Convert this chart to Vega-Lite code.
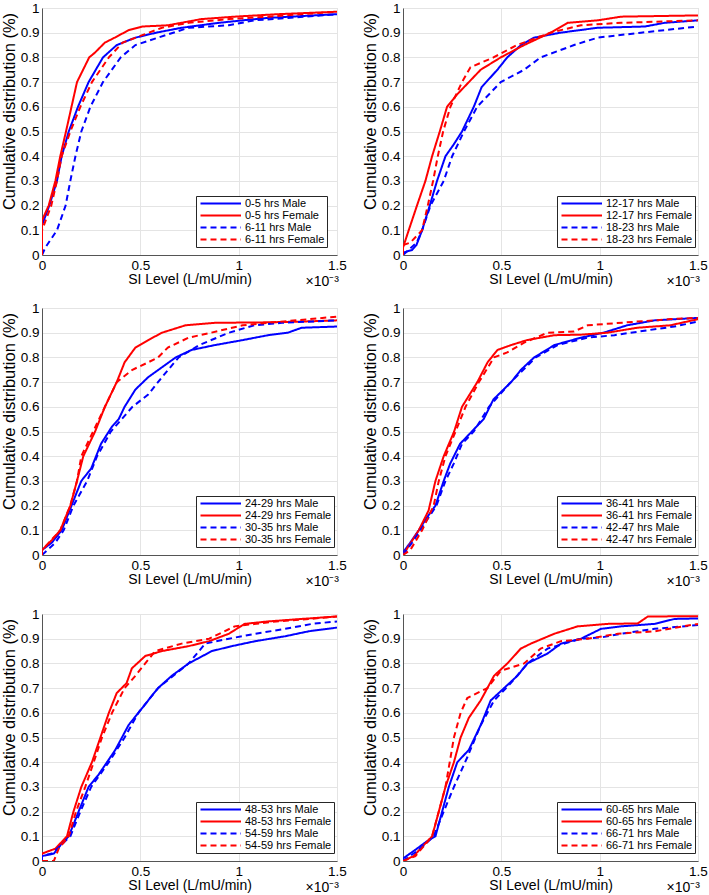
{
  "$schema": "https://vega.github.io/schema/vega-lite/v6.json",
  "padding": {"left": 0, "top": 0, "right": 0, "bottom": 0},
  "background": "white",
  "spacing": 10,
  "config": {
    "font": "Liberation Sans",
    "view": {"stroke": "#d4d4d4"},
    "axis": {"labelFontSize": 13.5, "titleFontSize": 14.5, "titleFontWeight": "normal", "labelColor": "#000000", "titleColor": "#000000", "domainColor": "#555555", "gridColor": "#e4e4e4", "ticks": false, "labelFlush": false, "labelOverlap": false, "labelPadding": 4},
    "axisX": {"labelPadding": 3, "titlePadding": 1, "titleFontSize": 14},
    "axisY": {"titleFontSize": 16.5, "titleY": 103, "titlePadding": 3, "labelPadding": 3},
    "legend": {"orient": "none", "legendX": 154, "legendY": 188, "symbolType": "M-1,0H12.5", "symbolSize": 36, "symbolStrokeWidth": 2, "labelFontSize": 11, "labelColor": "#000000", "labelOffset": 36, "strokeColor": "#262626", "fillColor": "white", "padding": 2, "rowPadding": 0},
    "concat": {"spacing": 14}
  },
  "datasets": {
    "d1": [
      {"s":"0-5 hrs Male","x":0,"y":0},{"s":"0-5 hrs Male","x":0,"y":0.12},{"s":"0-5 hrs Male","x":0.037,"y":0.2},{"s":"0-5 hrs Male","x":0.076,"y":0.3},{"s":"0-5 hrs Male","x":0.1,"y":0.4},{"s":"0-5 hrs Male","x":0.136,"y":0.5},{"s":"0-5 hrs Male","x":0.183,"y":0.6},{"s":"0-5 hrs Male","x":0.237,"y":0.7},{"s":"0-5 hrs Male","x":0.31,"y":0.8},{"s":"0-5 hrs Male","x":0.38,"y":0.85},{"s":"0-5 hrs Male","x":0.475,"y":0.88},{"s":"0-5 hrs Male","x":0.58,"y":0.9},{"s":"0-5 hrs Male","x":0.71,"y":0.92},{"s":"0-5 hrs Male","x":0.9,"y":0.94},{"s":"0-5 hrs Male","x":1.02,"y":0.95},{"s":"0-5 hrs Male","x":1.15,"y":0.96},{"s":"0-5 hrs Male","x":1.5,"y":0.975},
      {"s":"0-5 hrs Female","x":0,"y":0},{"s":"0-5 hrs Female","x":0,"y":0.14},{"s":"0-5 hrs Female","x":0.034,"y":0.2},{"s":"0-5 hrs Female","x":0.068,"y":0.3},{"s":"0-5 hrs Female","x":0.093,"y":0.4},{"s":"0-5 hrs Female","x":0.122,"y":0.5},{"s":"0-5 hrs Female","x":0.15,"y":0.6},{"s":"0-5 hrs Female","x":0.178,"y":0.7},{"s":"0-5 hrs Female","x":0.24,"y":0.8},{"s":"0-5 hrs Female","x":0.27,"y":0.82},{"s":"0-5 hrs Female","x":0.32,"y":0.86},{"s":"0-5 hrs Female","x":0.37,"y":0.88},{"s":"0-5 hrs Female","x":0.44,"y":0.91},{"s":"0-5 hrs Female","x":0.51,"y":0.925},{"s":"0-5 hrs Female","x":0.64,"y":0.93},{"s":"0-5 hrs Female","x":0.81,"y":0.955},{"s":"0-5 hrs Female","x":0.98,"y":0.965},{"s":"0-5 hrs Female","x":1.2,"y":0.975},{"s":"0-5 hrs Female","x":1.5,"y":0.985},
      {"s":"6-11 hrs Male","x":0,"y":0},{"s":"6-11 hrs Male","x":0.017,"y":0.03},{"s":"6-11 hrs Male","x":0.076,"y":0.1},{"s":"6-11 hrs Male","x":0.12,"y":0.2},{"s":"6-11 hrs Male","x":0.144,"y":0.3},{"s":"6-11 hrs Male","x":0.17,"y":0.4},{"s":"6-11 hrs Male","x":0.2,"y":0.5},{"s":"6-11 hrs Male","x":0.246,"y":0.6},{"s":"6-11 hrs Male","x":0.31,"y":0.7},{"s":"6-11 hrs Male","x":0.4,"y":0.8},{"s":"6-11 hrs Male","x":0.475,"y":0.85},{"s":"6-11 hrs Male","x":0.59,"y":0.88},{"s":"6-11 hrs Male","x":0.746,"y":0.92},{"s":"6-11 hrs Male","x":0.95,"y":0.93},{"s":"6-11 hrs Male","x":1.08,"y":0.95},{"s":"6-11 hrs Male","x":1.25,"y":0.96},{"s":"6-11 hrs Male","x":1.5,"y":0.975},
      {"s":"6-11 hrs Female","x":0,"y":0},{"s":"6-11 hrs Female","x":0,"y":0.1},{"s":"6-11 hrs Female","x":0.047,"y":0.2},{"s":"6-11 hrs Female","x":0.076,"y":0.3},{"s":"6-11 hrs Female","x":0.1,"y":0.4},{"s":"6-11 hrs Female","x":0.144,"y":0.5},{"s":"6-11 hrs Female","x":0.195,"y":0.6},{"s":"6-11 hrs Female","x":0.254,"y":0.7},{"s":"6-11 hrs Female","x":0.34,"y":0.8},{"s":"6-11 hrs Female","x":0.41,"y":0.86},{"s":"6-11 hrs Female","x":0.51,"y":0.89},{"s":"6-11 hrs Female","x":0.61,"y":0.92},{"s":"6-11 hrs Female","x":0.746,"y":0.94},{"s":"6-11 hrs Female","x":0.95,"y":0.955},{"s":"6-11 hrs Female","x":1.15,"y":0.965},{"s":"6-11 hrs Female","x":1.5,"y":0.985}
    ],
    "d2": [
      {"s":"12-17 hrs Male","x":0,"y":0},{"s":"12-17 hrs Male","x":0,"y":0.01},{"s":"12-17 hrs Male","x":0.046,"y":0.02},{"s":"12-17 hrs Male","x":0.068,"y":0.04},{"s":"12-17 hrs Male","x":0.097,"y":0.1},{"s":"12-17 hrs Male","x":0.136,"y":0.2},{"s":"12-17 hrs Male","x":0.173,"y":0.3},{"s":"12-17 hrs Male","x":0.216,"y":0.4},{"s":"12-17 hrs Male","x":0.26,"y":0.45},{"s":"12-17 hrs Male","x":0.3,"y":0.5},{"s":"12-17 hrs Male","x":0.36,"y":0.6},{"s":"12-17 hrs Male","x":0.4,"y":0.68},{"s":"12-17 hrs Male","x":0.48,"y":0.75},{"s":"12-17 hrs Male","x":0.53,"y":0.8},{"s":"12-17 hrs Male","x":0.6,"y":0.85},{"s":"12-17 hrs Male","x":0.667,"y":0.88},{"s":"12-17 hrs Male","x":0.8,"y":0.9},{"s":"12-17 hrs Male","x":0.99,"y":0.92},{"s":"12-17 hrs Male","x":1.23,"y":0.925},{"s":"12-17 hrs Male","x":1.33,"y":0.94},{"s":"12-17 hrs Male","x":1.5,"y":0.95},
      {"s":"12-17 hrs Female","x":0,"y":0},{"s":"12-17 hrs Female","x":0,"y":0.03},{"s":"12-17 hrs Female","x":0.029,"y":0.1},{"s":"12-17 hrs Female","x":0.071,"y":0.2},{"s":"12-17 hrs Female","x":0.114,"y":0.3},{"s":"12-17 hrs Female","x":0.148,"y":0.4},{"s":"12-17 hrs Female","x":0.187,"y":0.5},{"s":"12-17 hrs Female","x":0.224,"y":0.6},{"s":"12-17 hrs Female","x":0.275,"y":0.65},{"s":"12-17 hrs Female","x":0.335,"y":0.7},{"s":"12-17 hrs Female","x":0.395,"y":0.75},{"s":"12-17 hrs Female","x":0.497,"y":0.8},{"s":"12-17 hrs Female","x":0.616,"y":0.85},{"s":"12-17 hrs Female","x":0.75,"y":0.9},{"s":"12-17 hrs Female","x":0.837,"y":0.94},{"s":"12-17 hrs Female","x":0.99,"y":0.95},{"s":"12-17 hrs Female","x":1.11,"y":0.965},{"s":"12-17 hrs Female","x":1.5,"y":0.97},
      {"s":"18-23 hrs Male","x":0,"y":0},{"s":"18-23 hrs Male","x":0.07,"y":0.05},{"s":"18-23 hrs Male","x":0.097,"y":0.1},{"s":"18-23 hrs Male","x":0.14,"y":0.2},{"s":"18-23 hrs Male","x":0.207,"y":0.3},{"s":"18-23 hrs Male","x":0.25,"y":0.4},{"s":"18-23 hrs Male","x":0.31,"y":0.5},{"s":"18-23 hrs Male","x":0.377,"y":0.6},{"s":"18-23 hrs Male","x":0.497,"y":0.7},{"s":"18-23 hrs Male","x":0.616,"y":0.75},{"s":"18-23 hrs Male","x":0.7,"y":0.8},{"s":"18-23 hrs Male","x":0.87,"y":0.85},{"s":"18-23 hrs Male","x":0.99,"y":0.88},{"s":"18-23 hrs Male","x":1.21,"y":0.9},{"s":"18-23 hrs Male","x":1.5,"y":0.925},
      {"s":"18-23 hrs Female","x":0,"y":0},{"s":"18-23 hrs Female","x":0,"y":0.04},{"s":"18-23 hrs Female","x":0.037,"y":0.05},{"s":"18-23 hrs Female","x":0.097,"y":0.1},{"s":"18-23 hrs Female","x":0.126,"y":0.2},{"s":"18-23 hrs Female","x":0.153,"y":0.3},{"s":"18-23 hrs Female","x":0.177,"y":0.4},{"s":"18-23 hrs Female","x":0.204,"y":0.5},{"s":"18-23 hrs Female","x":0.241,"y":0.6},{"s":"18-23 hrs Female","x":0.3,"y":0.7},{"s":"18-23 hrs Female","x":0.343,"y":0.76},{"s":"18-23 hrs Female","x":0.46,"y":0.8},{"s":"18-23 hrs Female","x":0.58,"y":0.85},{"s":"18-23 hrs Female","x":0.75,"y":0.9},{"s":"18-23 hrs Female","x":0.905,"y":0.93},{"s":"18-23 hrs Female","x":1.11,"y":0.94},{"s":"18-23 hrs Female","x":1.5,"y":0.95}
    ],
    "d3": [
      {"s":"24-29 hrs Male","x":0,"y":0},{"s":"24-29 hrs Male","x":0,"y":0.02},{"s":"24-29 hrs Male","x":0.05,"y":0.05},{"s":"24-29 hrs Male","x":0.1,"y":0.1},{"s":"24-29 hrs Male","x":0.15,"y":0.2},{"s":"24-29 hrs Male","x":0.2,"y":0.3},{"s":"24-29 hrs Male","x":0.25,"y":0.35},{"s":"24-29 hrs Male","x":0.3,"y":0.45},{"s":"24-29 hrs Male","x":0.356,"y":0.52},{"s":"24-29 hrs Male","x":0.39,"y":0.55},{"s":"24-29 hrs Male","x":0.42,"y":0.6},{"s":"24-29 hrs Male","x":0.475,"y":0.67},{"s":"24-29 hrs Male","x":0.54,"y":0.72},{"s":"24-29 hrs Male","x":0.61,"y":0.76},{"s":"24-29 hrs Male","x":0.68,"y":0.8},{"s":"24-29 hrs Male","x":0.76,"y":0.83},{"s":"24-29 hrs Male","x":0.88,"y":0.85},{"s":"24-29 hrs Male","x":1.02,"y":0.87},{"s":"24-29 hrs Male","x":1.15,"y":0.89},{"s":"24-29 hrs Male","x":1.25,"y":0.9},{"s":"24-29 hrs Male","x":1.32,"y":0.92},{"s":"24-29 hrs Male","x":1.5,"y":0.925},
      {"s":"24-29 hrs Female","x":0,"y":0},{"s":"24-29 hrs Female","x":0,"y":0.02},{"s":"24-29 hrs Female","x":0.05,"y":0.06},{"s":"24-29 hrs Female","x":0.093,"y":0.1},{"s":"24-29 hrs Female","x":0.144,"y":0.2},{"s":"24-29 hrs Female","x":0.178,"y":0.3},{"s":"24-29 hrs Female","x":0.21,"y":0.4},{"s":"24-29 hrs Female","x":0.27,"y":0.5},{"s":"24-29 hrs Female","x":0.32,"y":0.6},{"s":"24-29 hrs Female","x":0.38,"y":0.7},{"s":"24-29 hrs Female","x":0.42,"y":0.78},{"s":"24-29 hrs Female","x":0.475,"y":0.84},{"s":"24-29 hrs Female","x":0.54,"y":0.87},{"s":"24-29 hrs Female","x":0.61,"y":0.9},{"s":"24-29 hrs Female","x":0.73,"y":0.93},{"s":"24-29 hrs Female","x":0.88,"y":0.94},{"s":"24-29 hrs Female","x":1.15,"y":0.942},{"s":"24-29 hrs Female","x":1.32,"y":0.945},{"s":"24-29 hrs Female","x":1.5,"y":0.95},
      {"s":"30-35 hrs Male","x":0,"y":0},{"s":"30-35 hrs Male","x":0.068,"y":0.05},{"s":"30-35 hrs Male","x":0.11,"y":0.1},{"s":"30-35 hrs Male","x":0.16,"y":0.2},{"s":"30-35 hrs Male","x":0.23,"y":0.3},{"s":"30-35 hrs Male","x":0.28,"y":0.4},{"s":"30-35 hrs Male","x":0.35,"y":0.5},{"s":"30-35 hrs Male","x":0.46,"y":0.6},{"s":"30-35 hrs Male","x":0.54,"y":0.65},{"s":"30-35 hrs Male","x":0.61,"y":0.72},{"s":"30-35 hrs Male","x":0.695,"y":0.8},{"s":"30-35 hrs Male","x":0.8,"y":0.85},{"s":"30-35 hrs Male","x":0.95,"y":0.9},{"s":"30-35 hrs Male","x":1.08,"y":0.93},{"s":"30-35 hrs Male","x":1.22,"y":0.94},{"s":"30-35 hrs Male","x":1.5,"y":0.95},
      {"s":"30-35 hrs Female","x":0,"y":0},{"s":"30-35 hrs Female","x":0,"y":0.02},{"s":"30-35 hrs Female","x":0.093,"y":0.1},{"s":"30-35 hrs Female","x":0.144,"y":0.2},{"s":"30-35 hrs Female","x":0.178,"y":0.3},{"s":"30-35 hrs Female","x":0.2,"y":0.4},{"s":"30-35 hrs Female","x":0.26,"y":0.5},{"s":"30-35 hrs Female","x":0.32,"y":0.6},{"s":"30-35 hrs Female","x":0.38,"y":0.7},{"s":"30-35 hrs Female","x":0.46,"y":0.75},{"s":"30-35 hrs Female","x":0.54,"y":0.78},{"s":"30-35 hrs Female","x":0.59,"y":0.8},{"s":"30-35 hrs Female","x":0.64,"y":0.84},{"s":"30-35 hrs Female","x":0.746,"y":0.88},{"s":"30-35 hrs Female","x":0.86,"y":0.9},{"s":"30-35 hrs Female","x":1.02,"y":0.93},{"s":"30-35 hrs Female","x":1.15,"y":0.94},{"s":"30-35 hrs Female","x":1.5,"y":0.965}
    ],
    "d4": [
      {"s":"36-41 hrs Male","x":0,"y":0},{"s":"36-41 hrs Male","x":0,"y":0.01},{"s":"36-41 hrs Male","x":0.037,"y":0.05},{"s":"36-41 hrs Male","x":0.08,"y":0.1},{"s":"36-41 hrs Male","x":0.12,"y":0.15},{"s":"36-41 hrs Male","x":0.165,"y":0.2},{"s":"36-41 hrs Male","x":0.207,"y":0.3},{"s":"36-41 hrs Male","x":0.24,"y":0.37},{"s":"36-41 hrs Male","x":0.29,"y":0.45},{"s":"36-41 hrs Male","x":0.35,"y":0.5},{"s":"36-41 hrs Male","x":0.41,"y":0.55},{"s":"36-41 hrs Male","x":0.46,"y":0.63},{"s":"36-41 hrs Male","x":0.55,"y":0.7},{"s":"36-41 hrs Male","x":0.6,"y":0.75},{"s":"36-41 hrs Male","x":0.667,"y":0.8},{"s":"36-41 hrs Male","x":0.77,"y":0.85},{"s":"36-41 hrs Male","x":0.905,"y":0.88},{"s":"36-41 hrs Male","x":1.02,"y":0.9},{"s":"36-41 hrs Male","x":1.14,"y":0.93},{"s":"36-41 hrs Male","x":1.28,"y":0.95},{"s":"36-41 hrs Male","x":1.5,"y":0.96},
      {"s":"36-41 hrs Female","x":0,"y":0},{"s":"36-41 hrs Female","x":0.08,"y":0.1},{"s":"36-41 hrs Female","x":0.13,"y":0.18},{"s":"36-41 hrs Female","x":0.165,"y":0.3},{"s":"36-41 hrs Female","x":0.207,"y":0.4},{"s":"36-41 hrs Female","x":0.26,"y":0.5},{"s":"36-41 hrs Female","x":0.3,"y":0.6},{"s":"36-41 hrs Female","x":0.378,"y":0.7},{"s":"36-41 hrs Female","x":0.43,"y":0.78},{"s":"36-41 hrs Female","x":0.48,"y":0.83},{"s":"36-41 hrs Female","x":0.55,"y":0.85},{"s":"36-41 hrs Female","x":0.63,"y":0.87},{"s":"36-41 hrs Female","x":0.77,"y":0.89},{"s":"36-41 hrs Female","x":0.905,"y":0.892},{"s":"36-41 hrs Female","x":1.04,"y":0.9},{"s":"36-41 hrs Female","x":1.19,"y":0.92},{"s":"36-41 hrs Female","x":1.36,"y":0.93},{"s":"36-41 hrs Female","x":1.5,"y":0.955},
      {"s":"42-47 hrs Male","x":0,"y":0},{"s":"42-47 hrs Male","x":0.046,"y":0.05},{"s":"42-47 hrs Male","x":0.088,"y":0.1},{"s":"42-47 hrs Male","x":0.17,"y":0.2},{"s":"42-47 hrs Male","x":0.216,"y":0.3},{"s":"42-47 hrs Male","x":0.258,"y":0.37},{"s":"42-47 hrs Male","x":0.3,"y":0.45},{"s":"42-47 hrs Male","x":0.36,"y":0.5},{"s":"42-47 hrs Male","x":0.437,"y":0.6},{"s":"42-47 hrs Male","x":0.548,"y":0.7},{"s":"42-47 hrs Male","x":0.675,"y":0.8},{"s":"42-47 hrs Male","x":0.786,"y":0.85},{"s":"42-47 hrs Male","x":0.939,"y":0.88},{"s":"42-47 hrs Male","x":1.075,"y":0.89},{"s":"42-47 hrs Male","x":1.245,"y":0.91},{"s":"42-47 hrs Male","x":1.38,"y":0.925},{"s":"42-47 hrs Male","x":1.5,"y":0.945},
      {"s":"42-47 hrs Female","x":0,"y":0},{"s":"42-47 hrs Female","x":0.037,"y":0.02},{"s":"42-47 hrs Female","x":0.097,"y":0.1},{"s":"42-47 hrs Female","x":0.156,"y":0.2},{"s":"42-47 hrs Female","x":0.182,"y":0.3},{"s":"42-47 hrs Female","x":0.216,"y":0.4},{"s":"42-47 hrs Female","x":0.267,"y":0.5},{"s":"42-47 hrs Female","x":0.318,"y":0.6},{"s":"42-47 hrs Female","x":0.386,"y":0.7},{"s":"42-47 hrs Female","x":0.463,"y":0.8},{"s":"42-47 hrs Female","x":0.53,"y":0.82},{"s":"42-47 hrs Female","x":0.616,"y":0.86},{"s":"42-47 hrs Female","x":0.735,"y":0.9},{"s":"42-47 hrs Female","x":0.87,"y":0.905},{"s":"42-47 hrs Female","x":0.939,"y":0.93},{"s":"42-47 hrs Female","x":1.19,"y":0.945},{"s":"42-47 hrs Female","x":1.36,"y":0.955},{"s":"42-47 hrs Female","x":1.5,"y":0.96}
    ],
    "d5": [
      {"s":"48-53 hrs Male","x":0,"y":0},{"s":"48-53 hrs Male","x":0,"y":0.02},{"s":"48-53 hrs Male","x":0.06,"y":0.03},{"s":"48-53 hrs Male","x":0.1,"y":0.07},{"s":"48-53 hrs Male","x":0.136,"y":0.1},{"s":"48-53 hrs Male","x":0.186,"y":0.2},{"s":"48-53 hrs Male","x":0.237,"y":0.3},{"s":"48-53 hrs Male","x":0.288,"y":0.35},{"s":"48-53 hrs Male","x":0.373,"y":0.45},{"s":"48-53 hrs Male","x":0.44,"y":0.55},{"s":"48-53 hrs Male","x":0.51,"y":0.62},{"s":"48-53 hrs Male","x":0.59,"y":0.7},{"s":"48-53 hrs Male","x":0.66,"y":0.75},{"s":"48-53 hrs Male","x":0.746,"y":0.8},{"s":"48-53 hrs Male","x":0.864,"y":0.85},{"s":"48-53 hrs Male","x":0.966,"y":0.87},{"s":"48-53 hrs Male","x":1.085,"y":0.89},{"s":"48-53 hrs Male","x":1.237,"y":0.91},{"s":"48-53 hrs Male","x":1.356,"y":0.93},{"s":"48-53 hrs Male","x":1.5,"y":0.945},
      {"s":"48-53 hrs Female","x":0,"y":0},{"s":"48-53 hrs Female","x":0,"y":0.03},{"s":"48-53 hrs Female","x":0.068,"y":0.05},{"s":"48-53 hrs Female","x":0.127,"y":0.1},{"s":"48-53 hrs Female","x":0.16,"y":0.2},{"s":"48-53 hrs Female","x":0.2,"y":0.3},{"s":"48-53 hrs Female","x":0.254,"y":0.4},{"s":"48-53 hrs Female","x":0.297,"y":0.5},{"s":"48-53 hrs Female","x":0.34,"y":0.6},{"s":"48-53 hrs Female","x":0.38,"y":0.68},{"s":"48-53 hrs Female","x":0.43,"y":0.72},{"s":"48-53 hrs Female","x":0.457,"y":0.78},{"s":"48-53 hrs Female","x":0.525,"y":0.83},{"s":"48-53 hrs Female","x":0.61,"y":0.85},{"s":"48-53 hrs Female","x":0.746,"y":0.87},{"s":"48-53 hrs Female","x":0.85,"y":0.89},{"s":"48-53 hrs Female","x":0.95,"y":0.92},{"s":"48-53 hrs Female","x":1.03,"y":0.96},{"s":"48-53 hrs Female","x":1.15,"y":0.97},{"s":"48-53 hrs Female","x":1.32,"y":0.98},{"s":"48-53 hrs Female","x":1.5,"y":0.99},
      {"s":"54-59 hrs Male","x":0,"y":0},{"s":"54-59 hrs Male","x":0,"y":0.02},{"s":"54-59 hrs Male","x":0.05,"y":0.03},{"s":"54-59 hrs Male","x":0.144,"y":0.1},{"s":"54-59 hrs Male","x":0.195,"y":0.2},{"s":"54-59 hrs Male","x":0.25,"y":0.3},{"s":"54-59 hrs Male","x":0.34,"y":0.4},{"s":"54-59 hrs Male","x":0.42,"y":0.5},{"s":"54-59 hrs Male","x":0.49,"y":0.6},{"s":"54-59 hrs Male","x":0.59,"y":0.7},{"s":"54-59 hrs Male","x":0.746,"y":0.8},{"s":"54-59 hrs Male","x":0.83,"y":0.88},{"s":"54-59 hrs Male","x":0.95,"y":0.9},{"s":"54-59 hrs Male","x":1.085,"y":0.92},{"s":"54-59 hrs Male","x":1.237,"y":0.94},{"s":"54-59 hrs Male","x":1.373,"y":0.96},{"s":"54-59 hrs Male","x":1.5,"y":0.97},
      {"s":"54-59 hrs Female","x":0,"y":0},{"s":"54-59 hrs Female","x":0.06,"y":0},{"s":"54-59 hrs Female","x":0.085,"y":0.05},{"s":"54-59 hrs Female","x":0.136,"y":0.1},{"s":"54-59 hrs Female","x":0.173,"y":0.2},{"s":"54-59 hrs Female","x":0.22,"y":0.3},{"s":"54-59 hrs Female","x":0.263,"y":0.4},{"s":"54-59 hrs Female","x":0.305,"y":0.5},{"s":"54-59 hrs Female","x":0.356,"y":0.6},{"s":"54-59 hrs Female","x":0.42,"y":0.7},{"s":"54-59 hrs Female","x":0.475,"y":0.75},{"s":"54-59 hrs Female","x":0.525,"y":0.8},{"s":"54-59 hrs Female","x":0.576,"y":0.85},{"s":"54-59 hrs Female","x":0.71,"y":0.88},{"s":"54-59 hrs Female","x":0.85,"y":0.9},{"s":"54-59 hrs Female","x":0.98,"y":0.95},{"s":"54-59 hrs Female","x":1.19,"y":0.97},{"s":"54-59 hrs Female","x":1.36,"y":0.98},{"s":"54-59 hrs Female","x":1.5,"y":0.99}
    ],
    "d6": [
      {"s":"60-65 hrs Male","x":0,"y":0},{"s":"60-65 hrs Male","x":0,"y":0.01},{"s":"60-65 hrs Male","x":0.071,"y":0.05},{"s":"60-65 hrs Male","x":0.122,"y":0.08},{"s":"60-65 hrs Male","x":0.165,"y":0.1},{"s":"60-65 hrs Male","x":0.199,"y":0.2},{"s":"60-65 hrs Male","x":0.233,"y":0.3},{"s":"60-65 hrs Male","x":0.276,"y":0.4},{"s":"60-65 hrs Male","x":0.335,"y":0.45},{"s":"60-65 hrs Male","x":0.395,"y":0.55},{"s":"60-65 hrs Male","x":0.446,"y":0.65},{"s":"60-65 hrs Male","x":0.514,"y":0.7},{"s":"60-65 hrs Male","x":0.582,"y":0.75},{"s":"60-65 hrs Male","x":0.633,"y":0.8},{"s":"60-65 hrs Male","x":0.735,"y":0.84},{"s":"60-65 hrs Male","x":0.803,"y":0.88},{"s":"60-65 hrs Male","x":0.905,"y":0.9},{"s":"60-65 hrs Male","x":1.007,"y":0.94},{"s":"60-65 hrs Male","x":1.109,"y":0.95},{"s":"60-65 hrs Male","x":1.279,"y":0.96},{"s":"60-65 hrs Male","x":1.381,"y":0.98},{"s":"60-65 hrs Male","x":1.5,"y":0.982},
      {"s":"60-65 hrs Female","x":0,"y":0},{"s":"60-65 hrs Female","x":0.054,"y":0.02},{"s":"60-65 hrs Female","x":0.148,"y":0.1},{"s":"60-65 hrs Female","x":0.182,"y":0.2},{"s":"60-65 hrs Female","x":0.216,"y":0.3},{"s":"60-65 hrs Female","x":0.259,"y":0.4},{"s":"60-65 hrs Female","x":0.293,"y":0.5},{"s":"60-65 hrs Female","x":0.335,"y":0.58},{"s":"60-65 hrs Female","x":0.395,"y":0.65},{"s":"60-65 hrs Female","x":0.463,"y":0.75},{"s":"60-65 hrs Female","x":0.531,"y":0.8},{"s":"60-65 hrs Female","x":0.599,"y":0.86},{"s":"60-65 hrs Female","x":0.65,"y":0.88},{"s":"60-65 hrs Female","x":0.769,"y":0.92},{"s":"60-65 hrs Female","x":0.888,"y":0.95},{"s":"60-65 hrs Female","x":1.041,"y":0.96},{"s":"60-65 hrs Female","x":1.194,"y":0.962},{"s":"60-65 hrs Female","x":1.245,"y":0.99},{"s":"60-65 hrs Female","x":1.5,"y":0.991},
      {"s":"66-71 hrs Male","x":0,"y":0},{"s":"66-71 hrs Male","x":0.088,"y":0.05},{"s":"66-71 hrs Male","x":0.156,"y":0.1},{"s":"66-71 hrs Male","x":0.207,"y":0.2},{"s":"66-71 hrs Male","x":0.259,"y":0.3},{"s":"66-71 hrs Male","x":0.327,"y":0.42},{"s":"66-71 hrs Male","x":0.395,"y":0.55},{"s":"66-71 hrs Male","x":0.463,"y":0.65},{"s":"66-71 hrs Male","x":0.548,"y":0.72},{"s":"66-71 hrs Male","x":0.633,"y":0.8},{"s":"66-71 hrs Male","x":0.735,"y":0.86},{"s":"66-71 hrs Male","x":0.905,"y":0.9},{"s":"66-71 hrs Male","x":1.007,"y":0.905},{"s":"66-71 hrs Male","x":1.109,"y":0.92},{"s":"66-71 hrs Male","x":1.279,"y":0.94},{"s":"66-71 hrs Male","x":1.5,"y":0.955},
      {"s":"66-71 hrs Female","x":0,"y":0},{"s":"66-71 hrs Female","x":0.063,"y":0.02},{"s":"66-71 hrs Female","x":0.148,"y":0.1},{"s":"66-71 hrs Female","x":0.182,"y":0.2},{"s":"66-71 hrs Female","x":0.216,"y":0.3},{"s":"66-71 hrs Female","x":0.259,"y":0.5},{"s":"66-71 hrs Female","x":0.293,"y":0.6},{"s":"66-71 hrs Female","x":0.327,"y":0.66},{"s":"66-71 hrs Female","x":0.429,"y":0.7},{"s":"66-71 hrs Female","x":0.497,"y":0.77},{"s":"66-71 hrs Female","x":0.616,"y":0.8},{"s":"66-71 hrs Female","x":0.7,"y":0.86},{"s":"66-71 hrs Female","x":0.803,"y":0.89},{"s":"66-71 hrs Female","x":0.939,"y":0.9},{"s":"66-71 hrs Female","x":1.092,"y":0.92},{"s":"66-71 hrs Female","x":1.279,"y":0.93},{"s":"66-71 hrs Female","x":1.5,"y":0.96}
    ]
  },
  "vconcat": [
    {"hconcat": [
      {"width": 295, "height": 247, "data": {"name": "d1"}, "resolve": {"scale": {"color": "independent", "strokeDash": "independent"}},
       "layer": [
        {"mark": {"type": "line", "strokeWidth": 2, "clip": true},
         "encoding": {
          "x": {"field": "x", "type": "quantitative", "scale": {"domain": [0, 1.5], "nice": false}, "axis": {"values": [0, 0.5, 1, 1.5], "format": "~g", "title": "SI Level (L/mU/min)"}},
          "y": {"field": "y", "type": "quantitative", "scale": {"domain": [0, 1], "nice": false}, "axis": {"values": [0, 0.1, 0.2, 0.3, 0.4, 0.5, 0.6, 0.7, 0.8, 0.9, 1], "format": "~g", "title": "Cumulative distribution (%)"}},
          "color": {"field": "s", "type": "nominal", "title": null, "scale": {"domain": ["0-5 hrs Male", "0-5 hrs Female", "6-11 hrs Male", "6-11 hrs Female"], "range": ["#0000ff", "#ff0000", "#0000ff", "#ff0000"]}},
          "strokeDash": {"field": "s", "type": "nominal", "title": null, "scale": {"domain": ["0-5 hrs Male", "0-5 hrs Female", "6-11 hrs Male", "6-11 hrs Female"], "range": [[1, 0], [1, 0], [6, 4], [6, 4]]}},
          "order": [{"field": "x", "type": "quantitative"}, {"field": "y", "type": "quantitative"}]
         }},
        {"data": {"values": [{}]}, "mark": {"type": "text", "text": "×10⁻³", "fontSize": 14, "align": "right", "baseline": "alphabetic", "dy": 31, "dx": 2},
         "encoding": {
          "x": {"datum": 1.5, "type": "quantitative", "axis": {"values": [0, 0.5, 1, 1.5], "format": "~g", "title": "SI Level (L/mU/min)"}},
          "y": {"datum": 0, "type": "quantitative", "axis": {"values": [0, 0.1, 0.2, 0.3, 0.4, 0.5, 0.6, 0.7, 0.8, 0.9, 1], "format": "~g", "title": "Cumulative distribution (%)"}}}}
       ]},
      {"width": 295, "height": 247, "data": {"name": "d2"}, "resolve": {"scale": {"color": "independent", "strokeDash": "independent"}},
       "layer": [
        {"mark": {"type": "line", "strokeWidth": 2, "clip": true},
         "encoding": {
          "x": {"field": "x", "type": "quantitative", "scale": {"domain": [0, 1.5], "nice": false}, "axis": {"values": [0, 0.5, 1, 1.5], "format": "~g", "title": "SI Level (L/mU/min)"}},
          "y": {"field": "y", "type": "quantitative", "scale": {"domain": [0, 1], "nice": false}, "axis": {"values": [0, 0.1, 0.2, 0.3, 0.4, 0.5, 0.6, 0.7, 0.8, 0.9, 1], "format": "~g", "title": "Cumulative distribution (%)"}},
          "color": {"field": "s", "type": "nominal", "title": null, "scale": {"domain": ["12-17 hrs Male", "12-17 hrs Female", "18-23 hrs Male", "18-23 hrs Female"], "range": ["#0000ff", "#ff0000", "#0000ff", "#ff0000"]}},
          "strokeDash": {"field": "s", "type": "nominal", "title": null, "scale": {"domain": ["12-17 hrs Male", "12-17 hrs Female", "18-23 hrs Male", "18-23 hrs Female"], "range": [[1, 0], [1, 0], [6, 4], [6, 4]]}},
          "order": [{"field": "x", "type": "quantitative"}, {"field": "y", "type": "quantitative"}]
         }},
        {"data": {"values": [{}]}, "mark": {"type": "text", "text": "×10⁻³", "fontSize": 14, "align": "right", "baseline": "alphabetic", "dy": 31, "dx": 2},
         "encoding": {
          "x": {"datum": 1.5, "type": "quantitative", "axis": {"values": [0, 0.5, 1, 1.5], "format": "~g", "title": "SI Level (L/mU/min)"}},
          "y": {"datum": 0, "type": "quantitative", "axis": {"values": [0, 0.1, 0.2, 0.3, 0.4, 0.5, 0.6, 0.7, 0.8, 0.9, 1], "format": "~g", "title": "Cumulative distribution (%)"}}}}
       ]}
    ], "spacing": 14, "resolve": {"scale": {"color": "independent", "strokeDash": "independent"}}},
    {"spacing": 16, "resolve": {"scale": {"color": "independent", "strokeDash": "independent"}}, "vconcat": [
    {"hconcat": [
      {"width": 295, "height": 247, "data": {"name": "d3"}, "resolve": {"scale": {"color": "independent", "strokeDash": "independent"}},
       "layer": [
        {"mark": {"type": "line", "strokeWidth": 2, "clip": true},
         "encoding": {
          "x": {"field": "x", "type": "quantitative", "scale": {"domain": [0, 1.5], "nice": false}, "axis": {"values": [0, 0.5, 1, 1.5], "format": "~g", "title": "SI Level (L/mU/min)"}},
          "y": {"field": "y", "type": "quantitative", "scale": {"domain": [0, 1], "nice": false}, "axis": {"values": [0, 0.1, 0.2, 0.3, 0.4, 0.5, 0.6, 0.7, 0.8, 0.9, 1], "format": "~g", "title": "Cumulative distribution (%)"}},
          "color": {"field": "s", "type": "nominal", "title": null, "scale": {"domain": ["24-29 hrs Male", "24-29 hrs Female", "30-35 hrs Male", "30-35 hrs Female"], "range": ["#0000ff", "#ff0000", "#0000ff", "#ff0000"]}},
          "strokeDash": {"field": "s", "type": "nominal", "title": null, "scale": {"domain": ["24-29 hrs Male", "24-29 hrs Female", "30-35 hrs Male", "30-35 hrs Female"], "range": [[1, 0], [1, 0], [6, 4], [6, 4]]}},
          "order": [{"field": "x", "type": "quantitative"}, {"field": "y", "type": "quantitative"}]
         }},
        {"data": {"values": [{}]}, "mark": {"type": "text", "text": "×10⁻³", "fontSize": 14, "align": "right", "baseline": "alphabetic", "dy": 31, "dx": 2},
         "encoding": {
          "x": {"datum": 1.5, "type": "quantitative", "axis": {"values": [0, 0.5, 1, 1.5], "format": "~g", "title": "SI Level (L/mU/min)"}},
          "y": {"datum": 0, "type": "quantitative", "axis": {"values": [0, 0.1, 0.2, 0.3, 0.4, 0.5, 0.6, 0.7, 0.8, 0.9, 1], "format": "~g", "title": "Cumulative distribution (%)"}}}}
       ]},
      {"width": 295, "height": 247, "data": {"name": "d4"}, "resolve": {"scale": {"color": "independent", "strokeDash": "independent"}},
       "layer": [
        {"mark": {"type": "line", "strokeWidth": 2, "clip": true},
         "encoding": {
          "x": {"field": "x", "type": "quantitative", "scale": {"domain": [0, 1.5], "nice": false}, "axis": {"values": [0, 0.5, 1, 1.5], "format": "~g", "title": "SI Level (L/mU/min)"}},
          "y": {"field": "y", "type": "quantitative", "scale": {"domain": [0, 1], "nice": false}, "axis": {"values": [0, 0.1, 0.2, 0.3, 0.4, 0.5, 0.6, 0.7, 0.8, 0.9, 1], "format": "~g", "title": "Cumulative distribution (%)"}},
          "color": {"field": "s", "type": "nominal", "title": null, "scale": {"domain": ["36-41 hrs Male", "36-41 hrs Female", "42-47 hrs Male", "42-47 hrs Female"], "range": ["#0000ff", "#ff0000", "#0000ff", "#ff0000"]}},
          "strokeDash": {"field": "s", "type": "nominal", "title": null, "scale": {"domain": ["36-41 hrs Male", "36-41 hrs Female", "42-47 hrs Male", "42-47 hrs Female"], "range": [[1, 0], [1, 0], [6, 4], [6, 4]]}},
          "order": [{"field": "x", "type": "quantitative"}, {"field": "y", "type": "quantitative"}]
         }},
        {"data": {"values": [{}]}, "mark": {"type": "text", "text": "×10⁻³", "fontSize": 14, "align": "right", "baseline": "alphabetic", "dy": 31, "dx": 2},
         "encoding": {
          "x": {"datum": 1.5, "type": "quantitative", "axis": {"values": [0, 0.5, 1, 1.5], "format": "~g", "title": "SI Level (L/mU/min)"}},
          "y": {"datum": 0, "type": "quantitative", "axis": {"values": [0, 0.1, 0.2, 0.3, 0.4, 0.5, 0.6, 0.7, 0.8, 0.9, 1], "format": "~g", "title": "Cumulative distribution (%)"}}}}
       ]}
    ], "spacing": 14, "resolve": {"scale": {"color": "independent", "strokeDash": "independent"}}},
    {"hconcat": [
      {"width": 295, "height": 247, "data": {"name": "d5"}, "resolve": {"scale": {"color": "independent", "strokeDash": "independent"}},
       "layer": [
        {"mark": {"type": "line", "strokeWidth": 2, "clip": true},
         "encoding": {
          "x": {"field": "x", "type": "quantitative", "scale": {"domain": [0, 1.5], "nice": false}, "axis": {"values": [0, 0.5, 1, 1.5], "format": "~g", "title": "SI Level (L/mU/min)"}},
          "y": {"field": "y", "type": "quantitative", "scale": {"domain": [0, 1], "nice": false}, "axis": {"values": [0, 0.1, 0.2, 0.3, 0.4, 0.5, 0.6, 0.7, 0.8, 0.9, 1], "format": "~g", "title": "Cumulative distribution (%)"}},
          "color": {"field": "s", "type": "nominal", "title": null, "scale": {"domain": ["48-53 hrs Male", "48-53 hrs Female", "54-59 hrs Male", "54-59 hrs Female"], "range": ["#0000ff", "#ff0000", "#0000ff", "#ff0000"]}},
          "strokeDash": {"field": "s", "type": "nominal", "title": null, "scale": {"domain": ["48-53 hrs Male", "48-53 hrs Female", "54-59 hrs Male", "54-59 hrs Female"], "range": [[1, 0], [1, 0], [6, 4], [6, 4]]}},
          "order": [{"field": "x", "type": "quantitative"}, {"field": "y", "type": "quantitative"}]
         }},
        {"data": {"values": [{}]}, "mark": {"type": "text", "text": "×10⁻³", "fontSize": 14, "align": "right", "baseline": "alphabetic", "dy": 31, "dx": 2},
         "encoding": {
          "x": {"datum": 1.5, "type": "quantitative", "axis": {"values": [0, 0.5, 1, 1.5], "format": "~g", "title": "SI Level (L/mU/min)"}},
          "y": {"datum": 0, "type": "quantitative", "axis": {"values": [0, 0.1, 0.2, 0.3, 0.4, 0.5, 0.6, 0.7, 0.8, 0.9, 1], "format": "~g", "title": "Cumulative distribution (%)"}}}}
       ]},
      {"width": 295, "height": 247, "data": {"name": "d6"}, "resolve": {"scale": {"color": "independent", "strokeDash": "independent"}},
       "layer": [
        {"mark": {"type": "line", "strokeWidth": 2, "clip": true},
         "encoding": {
          "x": {"field": "x", "type": "quantitative", "scale": {"domain": [0, 1.5], "nice": false}, "axis": {"values": [0, 0.5, 1, 1.5], "format": "~g", "title": "SI Level (L/mU/min)"}},
          "y": {"field": "y", "type": "quantitative", "scale": {"domain": [0, 1], "nice": false}, "axis": {"values": [0, 0.1, 0.2, 0.3, 0.4, 0.5, 0.6, 0.7, 0.8, 0.9, 1], "format": "~g", "title": "Cumulative distribution (%)"}},
          "color": {"field": "s", "type": "nominal", "title": null, "scale": {"domain": ["60-65 hrs Male", "60-65 hrs Female", "66-71 hrs Male", "66-71 hrs Female"], "range": ["#0000ff", "#ff0000", "#0000ff", "#ff0000"]}},
          "strokeDash": {"field": "s", "type": "nominal", "title": null, "scale": {"domain": ["60-65 hrs Male", "60-65 hrs Female", "66-71 hrs Male", "66-71 hrs Female"], "range": [[1, 0], [1, 0], [6, 4], [6, 4]]}},
          "order": [{"field": "x", "type": "quantitative"}, {"field": "y", "type": "quantitative"}]
         }},
        {"data": {"values": [{}]}, "mark": {"type": "text", "text": "×10⁻³", "fontSize": 14, "align": "right", "baseline": "alphabetic", "dy": 31, "dx": 2},
         "encoding": {
          "x": {"datum": 1.5, "type": "quantitative", "axis": {"values": [0, 0.5, 1, 1.5], "format": "~g", "title": "SI Level (L/mU/min)"}},
          "y": {"datum": 0, "type": "quantitative", "axis": {"values": [0, 0.1, 0.2, 0.3, 0.4, 0.5, 0.6, 0.7, 0.8, 0.9, 1], "format": "~g", "title": "Cumulative distribution (%)"}}}}
       ]}
    ], "spacing": 14, "resolve": {"scale": {"color": "independent", "strokeDash": "independent"}}}
    ]}
  ],
  "resolve": {"scale": {"color": "independent", "strokeDash": "independent"}}
}
